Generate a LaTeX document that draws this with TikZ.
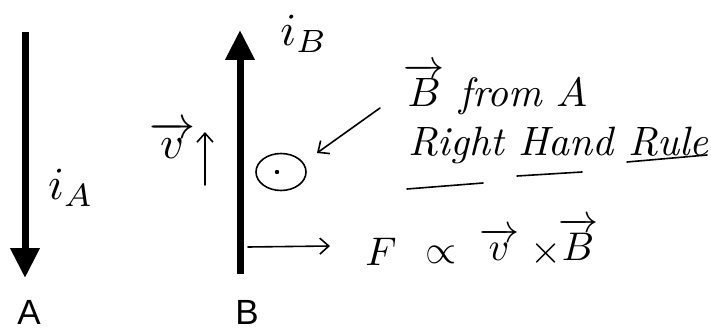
\documentclass[tikz,border=0pt]{standalone}
\usepackage{amsmath}
\usepackage{fontspec}
\newfontfamily\labelfont{Liberation Sans}
\usetikzlibrary{arrows.meta,shapes.geometric}
\tikzset{
  wire/.style={line width=7pt, -{Triangle[width=28pt,length=30pt]}},
  pen/.style={line width=1.6pt, line cap=round},
  penarrow/.style={pen, -{Straight Barb[length=9pt,width=16pt]}},
  wirelabel/.style={font=\labelfont, scale=3.5, transform shape, inner sep=0pt},
  hand/.style={font=\itshape, scale=4.1, transform shape, inner sep=0pt},
  handmath/.style={scale=4, transform shape, inner sep=0pt},
  bigmath/.style={scale=4.6, transform shape, inner sep=0pt}
}
\begin{document}
\begin{tikzpicture}[x=1pt,y=-1pt]
\useasboundingbox (0,0) rectangle (711,331);
% wire A
\coordinate (atop) at (25,32);
\coordinate (abot) at (25,278);
\draw[wire] (atop) -- (abot);
\node[wirelabel] (lA) at (29,312) {A};
% wire B
\coordinate (bbot) at (240,274);
\coordinate (btop) at (240,30);
\draw[wire] (bbot) -- (btop);
\node[wirelabel] (lB) at (247,312) {B};
% currents
\node[bigmath] (iA) at (71,188) {$i_{A}$};
\node[bigmath] (iB) at (304,34) {$i_{B}$};
% velocity
\node[bigmath] (v) at (172,140) {$\overrightarrow{v}$};
\coordinate (vs) at (205,185);
\coordinate (ve) at (205,132);
\draw[penarrow] (vs) -- (ve);
% field out of page
\node[draw, pen, ellipse, minimum width=50pt, minimum height=37pt, inner sep=0pt] (dot) at (281,172) {};
\fill (277,172) circle (2.2pt);
% B from A label
\node[hand, anchor=base west] (bfa) at (403,107) {$\overrightarrow{B}$ from $A$};
\coordinate (as) at (380,108);
\coordinate (ae) at (317,153);
\draw[penarrow] (as) -- (ae);
\node[hand, anchor=base west] (rhr) at (408,156) {Right Hand Rule};
\draw[pen] (407,189) -- (483,183);
\draw[pen] (517,176) -- (582,172);
\draw[pen] (627,162) -- (707,155);
% force
\coordinate (fs) at (248,247);
\coordinate (fe) at (330,246);
\draw[penarrow] (fs) -- (fe);
\node[handmath, anchor=base] (fF) at (381,265) {$F$};
\node[handmath, anchor=base] (fp) at (441,263) {$\propto$};
\node[handmath, anchor=base] (fv) at (499,260) {$\overrightarrow{v}$};
\node[handmath, anchor=base] (fx) at (546,263) {$\times$};
\node[handmath, anchor=base] (fB) at (578,260) {$\overrightarrow{B}$};
\end{tikzpicture}
\end{document}
